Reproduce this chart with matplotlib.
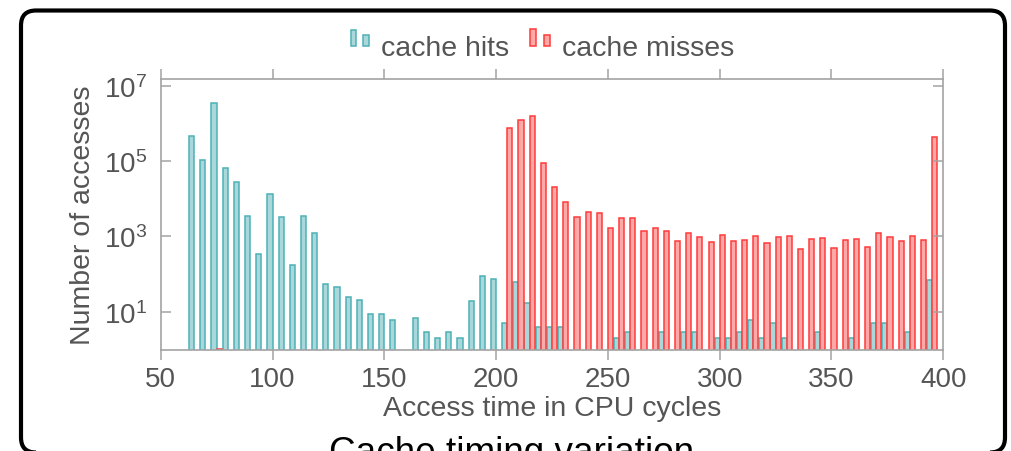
"""
Cache hit / miss access-time histogram (log scale), framed like a figure panel.
"""

import matplotlib
matplotlib.use("Agg")
import matplotlib.pyplot as plt
import numpy as np
from matplotlib.patches import FancyBboxPatch, Rectangle
from matplotlib.ticker import FixedLocator, NullLocator
from matplotlib.transforms import IdentityTransform


W, H = 1012, 452

# histogram bins, in CPU cycles (one cluster every 5 cycles)
cycles = list(range(65, 400, 5))

hits = [
    4.5e5, 1.07e5, 3.5e6, 6.4e4, 2.7e4, 3.5e3, 350, 1.3e4, 3.2e3, 170,
    3.5e3, 1.2e3, 54, 46, 25, 21, 9, 9, 6, 0,
    7, 3, 2, 3, 2, 19, 87, 76, 5, 63,
    17, 4, 4, 4, 0, 0, 0, 0, 2, 3,
    0, 0, 3, 0, 3, 3, 0, 2, 2, 3,
    6, 2, 5, 2, 0, 0, 3, 0, 0, 2,
    0, 5, 5, 0, 3, 0, 69,
]

misses = [
    0, 0, 1, 0, 0, 0, 0, 0, 0, 0,
    0, 0, 0, 0, 0, 0, 0, 0, 0, 0,
    0, 0, 0, 0, 0, 0, 0, 0, 7.4e5, 1.2e6,
    1.6e6, 9e4, 2.1e4, 8.2e3, 3.3e3, 4.5e3, 4.1e3, 1.7e3, 3.0e3, 3.0e3,
    1.4e3, 1.7e3, 1.4e3, 760, 1.2e3, 940, 700, 1.1e3, 760, 810,
    1.05e3, 660, 950, 1.0e3, 450, 850, 920, 490, 780, 830,
    540, 1.2e3, 980, 760, 1.0e3, 810, 4.4e5,
]

y_ticks = [1e1, 1e3, 1e5, 1e7]
x_ticks = [50, 100, 150, 200, 250, 300, 350, 400]

HIT_EDGE, HIT_FACE = "#4db1b6", "#aad8da"
MISS_EDGE, MISS_FACE = "#ff3b3b", "#ffa8a8"
AXIS_GREY = "#a3a3a3"
TEXT_GREY = "#555555"

plt.rcParams["font.family"] = ["Liberation Sans", "DejaVu Sans"]
plt.rcParams["mathtext.fontset"] = "custom"
plt.rcParams["mathtext.rm"] = "Liberation Sans"


def fx(px):
    return px / W


def fy(py):
    return 1 - py / H


fig = plt.figure(figsize=(W / 100, H / 100), dpi=100)
ax = fig.add_axes([fx(160.7), fy(350.5), fx(943.3) - fx(160.7), fy(80) - fy(350.5)])

x = np.array(cycles, dtype=float)
bw = 2.3
ax.bar(x - bw / 2, hits, width=bw, bottom=1e-3, color=HIT_FACE,
       edgecolor=HIT_EDGE, linewidth=1.1)
ax.bar(x + bw / 2, misses, width=bw, bottom=1e-3, color=MISS_FACE,
       edgecolor=MISS_EDGE, linewidth=1.1)

ax.set_yscale("log")
ax.set_ylim(1, 1.5e7)
ax.set_xlim(50, 400)
ax.yaxis.set_major_locator(FixedLocator(y_ticks))
ax.yaxis.set_minor_locator(NullLocator())
ax.set_xticks(x_ticks)

for sp in ax.spines.values():
    sp.set_color(AXIS_GREY)
    sp.set_linewidth(1.2)
ax.tick_params(axis="x", direction="out", top=True, length=7, width=1.1,
               color=AXIS_GREY, labelsize=20, labelcolor=TEXT_GREY, pad=5)
ax.tick_params(axis="y", direction="in", right=True, length=7, width=1.1,
               color=AXIS_GREY, labelsize=20, labelcolor=TEXT_GREY, pad=10)

fig.text(fx(552), fy(416), "Access time in CPU cycles", fontsize=20.5,
         color=TEXT_GREY, ha="center", va="baseline")
fig.text(fx(83), fy(215), "Number of accesses", fontsize=20.5,
         color=TEXT_GREY, ha="center", va="center", rotation=90)

# legend drawn by hand: two little bars per entry
ident = IdentityTransform()
for x0, w, top, face, edge in [
    (350.5, 5.5, 30.5, HIT_FACE, HIT_EDGE), (362.5, 6.5, 35.5, HIT_FACE, HIT_EDGE),
    (530.0, 6.0, 29.5, MISS_FACE, MISS_EDGE), (543.5, 6.5, 35.5, MISS_FACE, MISS_EDGE),
]:
    fig.add_artist(Rectangle((x0, H - 47), w, 47 - top, transform=ident,
                             facecolor=face, edgecolor=edge, linewidth=1.1))
fig.text(fx(381.5), fy(56), "cache hits", fontsize=20.5, color=TEXT_GREY,
         ha="left", va="baseline")
fig.text(fx(562), fy(56), "cache misses", fontsize=20.5, color=TEXT_GREY,
         ha="left", va="baseline")

# rounded frame around the panel; its bottom edge falls just off the picture
fig.add_artist(FancyBboxPatch((21, -1.5), 984, 442, transform=ident,
                              boxstyle="round,pad=0,rounding_size=15",
                              fill=False, edgecolor="black", linewidth=3))
fig.text(fx(512), fy(463), "Cache timing variation", fontsize=26.6,
         color="black", ha="center", va="baseline",
         bbox=dict(facecolor="white", edgecolor="none", pad=9))

fig.savefig("out.png", dpi=100)
